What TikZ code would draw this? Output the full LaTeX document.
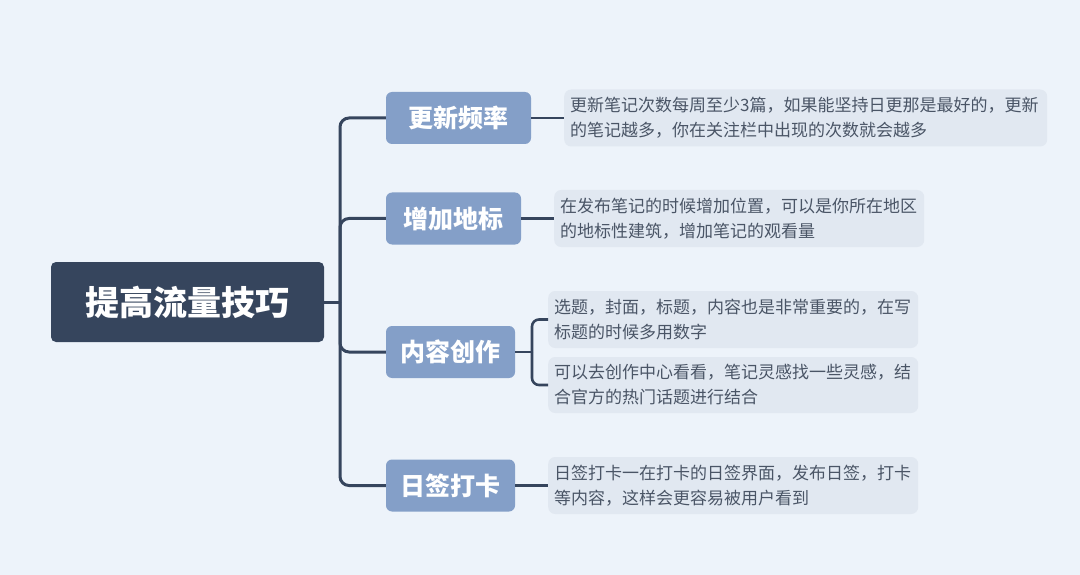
\documentclass[tikz,border=0pt]{standalone}
\usepackage{fontspec}
\newfontfamily\cjk{Noto Sans CJK SC}
\definecolor{bgc}{HTML}{EDF3FA}
\definecolor{rootc}{HTML}{36455D}
\definecolor{branchc}{HTML}{849FC8}
\definecolor{detailc}{HTML}{E1E8F1}
\definecolor{linec}{HTML}{36455D}
\definecolor{textc}{HTML}{4A5566}
\tikzset{
  rootbox/.style={rectangle, rounded corners=5pt, fill=rootc, text=white, inner sep=0pt,
    minimum width=273pt, minimum height=80pt, font=\cjk\bfseries\fontsize{34}{40}\selectfont},
  branchbox/.style={rectangle, rounded corners=6pt, fill=branchc, text=white, inner sep=0pt,
    minimum height=52pt, font=\cjk\bfseries\fontsize{25}{30}\selectfont},
  detailbox/.style={rectangle, rounded corners=7pt, fill=detailc, text=textc, anchor=west,
    inner xsep=6pt, inner ysep=0pt, align=left, minimum height=57pt,
    font=\cjk\fontsize{17}{25}\selectfont},
  trunk/.style={draw=linec, line width=3pt, rounded corners=9pt},
  twig/.style={draw=linec, line width=2.6pt, rounded corners=7pt},
}
\begin{document}
\begin{tikzpicture}[x=1pt,y=-1pt]
\useasboundingbox (0,0) rectangle (1080,575);
\fill[bgc] (0,0) rectangle (1080,575);

\node[rootbox] (root) at (187.5,302) {提高流量技巧};

\node[branchbox, minimum width=145pt] (b1) at (458.5,118) {更新频率};
\node[branchbox, minimum width=135pt] (b2) at (453.5,218.5) {增加地标};
\node[branchbox, minimum width=129pt] (b3) at (450.5,352) {内容创作};
\node[branchbox, minimum width=129pt] (b4) at (450.5,485.5) {日签打卡};

\node[detailbox, minimum width=483pt, text width=471pt] (d1) at (564,118)
  {更新笔记次数每周至少3篇，如果能坚持日更那是最好的，更新\\的笔记越多，你在关注栏中出现的次数就会越多};
\node[detailbox, minimum width=370pt, text width=358pt] (d2) at (554,218.5)
  {在发布笔记的时候增加位置，可以是你所在地区\\的地标性建筑，增加笔记的观看量};
\node[detailbox, minimum width=370pt, text width=358pt] (d3a) at (548,319.5)
  {选题，封面，标题，内容也是非常重要的，在写\\标题的时候多用数字};
\node[detailbox, minimum width=370pt, text width=358pt, minimum height=56pt] (d3b) at (548,385)
  {可以去创作中心看看，笔记灵感找一些灵感，结\\合官方的热门话题进行结合};
\node[detailbox, minimum width=370pt, text width=358pt] (d4) at (548,485.5)
  {日签打卡一在打卡的日签界面，发布日签，打卡\\等内容，这样会更容易被用户看到};

\coordinate (hub) at (340,302);
\draw[trunk] (root.east) -- (hub);
\draw[trunk] (hub) |- (b1.west);
\draw[trunk] (hub) |- (b2.west);
\draw[trunk] (hub) |- (b3.west);
\draw[trunk] (hub) |- (b4.west);

\draw[twig] (b1.east) -- (d1.west);
\draw[twig] (b2.east) -- (d2.west);
\coordinate (fork) at (532,352);
\draw[twig] (b3.east) -- (fork);
\draw[twig] (fork) |- (d3a.west);
\draw[twig] (fork) |- (d3b.west);
\draw[twig] (b4.east) -- (d4.west);
\end{tikzpicture}
\end{document}
